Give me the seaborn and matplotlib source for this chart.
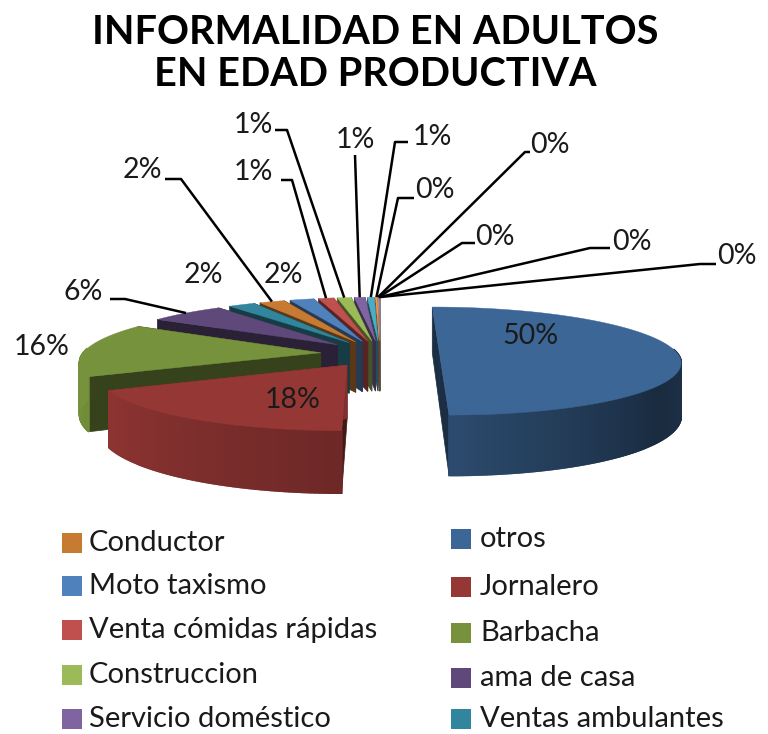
import numpy as np
import matplotlib.pyplot as plt
import seaborn as sns

# --- data ---
categories = ["otros", "Jornalero", "Barbacha", "ama de casa", "Ventas ambulantes",
              "Conductor", "Moto taxismo", "Venta cómidas rápidas", "Construccion",
              "Servicio doméstico"]
values = [50, 18, 16, 6, 2.1, 2.0, 1.9, 1.2, 1.1, 0.85, 0.55, 0.15, 0.06, 0.04, 0.03, 0.02]
colors = ["#3C6696", "#953735", "#76923C", "#5F497A", "#31859C", "#C77A32", "#4F81BD",
          "#C0504D", "#9BBB59", "#8064A2", "#4BACC6", "#F79646", "#95B3D7", "#D99694",
          "#C3D69B", "#B3A2C7"]

# --- layout (pixels) ---
title_lines = ["INFORMALIDAD EN ADULTOS", "EN EDAD PRODUCTIVA"]
label_xy = [(530, 336), (293, 400), (42, 347), (83, 292), (203, 275), (142, 170), (283, 275),
            (253, 172), (253, 125), (355, 140), (432, 137), (435, 190), (550, 145),
            (495, 237), (632, 242), (737, 256)]
# horizontal stub start, elbow
leaders = {3: [(110, 299), (125, 299)], 5: [(165, 179), (181, 179)],
           7: [(281, 180), (292, 180)], 8: [(275, 130), (287, 130)], 9: [(355, 155)],
           10: [(408, 142), (395, 142)], 11: [(414, 198), (398, 198)],
           12: [(530, 152), (525, 152)], 13: [(475, 243), (462, 243)],
           14: [(610, 248), (590, 248)], 15: [(716, 264), (700, 264)]}
legend_left = [5, 6, 7, 8, 9]
legend_right = [0, 1, 2, 3, 4]
left_y = [543, 586, 630, 675, 719]
right_y = [539, 587, 633, 678, 719]

HUB_X, HUB_Y = 380, 353.6
RX, RY = 238, 53
DEPTH = 52
EXPLODE = 0.25
PERSP = 0.138


def project(theta, r=1.0, mid=0.0):
    # theta clockwise from 12 o'clock, wedge pushed out along its middle angle
    x = EXPLODE * np.sin(np.radians(mid)) + r * np.sin(np.radians(theta))
    y = EXPLODE * np.cos(np.radians(mid)) + r * np.cos(np.radians(theta))
    s = 1 / (1 + PERSP * y)
    return HUB_X + x * RX * s, HUB_Y - y * RY * s, s


def darken(color, f):
    return tuple(min(1, c * f) for c in color)


def side_shade(theta):
    return np.interp(theta, [90, 125, 180, 245, 270], [0.5, 0.42, 0.73, 0.95, 1.0])


def draw_wedge(ax, start, end, color, end_cut=0.45):
    mid = (start + end) / 2
    thetas = np.linspace(start, end, max(int(end - start) * 2, 3))
    xs, ys, ss = project(thetas, 1.0, mid)
    ax0, ay0, as0 = project(mid, 0.0, mid)

    # cut faces
    for i, f in ((0, 0.45), (-1, end_cut)):
        ax.fill([ax0, xs[i], xs[i], ax0],
                [ay0, ys[i], ys[i] + DEPTH * ss[i], ay0 + DEPTH * as0],
                color=darken(color, f), lw=0.5, zorder=2)
    # outer rim, only the part that faces the viewer
    for i in range(len(thetas) - 1):
        tm = (thetas[i] + thetas[i + 1]) / 2
        if 90 - 5 < tm < 275:
            ax.fill([xs[i], xs[i + 1], xs[i + 1], xs[i]],
                    [ys[i], ys[i + 1], ys[i + 1] + DEPTH * ss[i + 1], ys[i] + DEPTH * ss[i]],
                    color=darken(color, side_shade(tm)), lw=1.3, zorder=2)
    # top face
    ax.fill(np.r_[ax0, xs], np.r_[ay0, ys], color=color, lw=0.3, zorder=2)


sns.set_theme(style="white")
plt.rcParams['font.family'] = ['Lato', 'DejaVu Sans']

palette = sns.color_palette(colors)
edges = np.r_[0, np.cumsum(values)] / sum(values) * 360

fig, ax = plt.subplots(figsize=(7.68, 7.34), dpi=100)
fig.subplots_adjust(0, 0, 1, 1)
ax.set_xlim(0, 768)
ax.set_ylim(734, 0)
ax.axis('off')

# back slices first
for i in range(len(values) - 1, -1, -1):
    # cut face at the front of the red slice is hardly visible in the original
    draw_wedge(ax, edges[i], edges[i + 1], palette[i], end_cut=0.85 if i == 1 else 0.45)

# leader lines
for i, pts in leaders.items():
    mid = (edges[i] + edges[i + 1]) / 2
    ex, ey, _ = project(mid, 1.0, mid)
    px = [p[0] for p in pts] + [ex]
    py = [p[1] for p in pts] + [ey]
    ax.plot(px, py, color='black', lw=1.8, zorder=3, solid_capstyle='butt')

# percent labels
for v, (x, y) in zip(values, label_xy):
    ax.text(x, y, f"{round(v)}%", ha='center', va='center', fontsize=20.5,
            color='#1a1a1a', zorder=4)

# title
ax.text(375, 32, title_lines[0], ha='center', va='center', fontsize=28.5, fontweight='bold',
        color='black')
ax.text(375, 74, title_lines[1], ha='center', va='center', fontsize=28.5, fontweight='bold',
        color='black')

# legend, built by hand because the two columns are not aligned
for idx, ys, x_sw, x_txt in [(legend_left, left_y, 72, 89), (legend_right, right_y, 461, 480)]:
    sns.scatterplot(x=[x_sw] * len(idx), y=ys, hue=[categories[i] for i in idx],
                    palette=[palette[i] for i in idx], marker='s', s=190, linewidth=0,
                    legend=False, ax=ax)
    for i, y in zip(idx, ys):
        ax.text(x_txt, y, categories[i], ha='left', va='center', fontsize=21, color='#1a1a1a')

ax.set_xlim(0, 768)
ax.set_ylim(734, 0)
fig.savefig('out.png', dpi=100)
